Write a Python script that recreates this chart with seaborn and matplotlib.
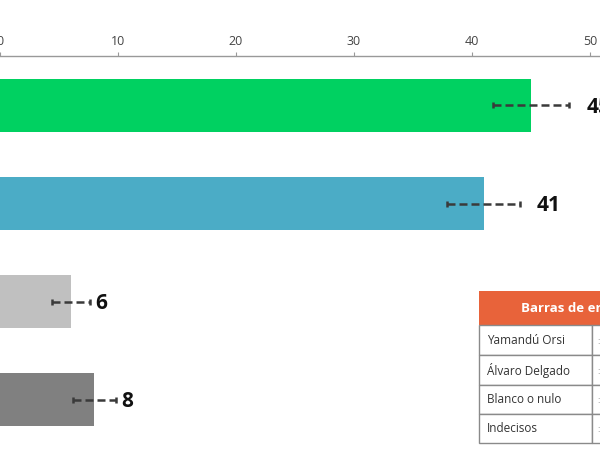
import matplotlib
matplotlib.use("Agg")
import matplotlib.pyplot as plt
import seaborn as sns
import pandas as pd
from matplotlib.patches import Rectangle

categories = ["Yamandú Orsi", "Álvaro Delgado", "Blanco o nulo", "Indecisos"]
values = [45, 41, 6, 8]
errors = [3.2, 3.1, 1.6, 1.8]
colors = ["#00D161", "#4BACC6", "#C0C0C0", "#808080"]
xticks = [0, 10, 20, 30, 40, 50]
table_title = "Barras de error"
table_errs = ["± 3,2", "± 3,1", "± 1,6", "± 1,8"]

sns.set_theme(style="white")
plt.rcParams["font.family"] = ["Open Sans", "DejaVu Sans"]

df = pd.DataFrame({"cat": categories, "val": values})

fig = plt.figure(figsize=(6, 4.5), dpi=100)
W, H = 600, 450
ax = fig.add_axes([0, 0, 1, 1 - 56 / H])
sns.barplot(data=df, x="val", y="cat", hue="cat", palette=colors, orient="h",
            width=0.55, ax=ax, legend=False, saturation=1, errorbar=None,
            linewidth=0, edgecolor="none")

ax.set_xlim(0.0, 600 / 11.8)
ax.set_ylim(3.515, -0.505)

pads = [18, 16, 6, 6]
for i, (v, e) in enumerate(zip(values, errors)):
    ax.errorbar(v, i, xerr=e, fmt="none", ecolor="#3a3a3a", elinewidth=1.8,
                capsize=2.5, capthick=1.8)
    ax.annotate(str(v), xy=(v + e, i), xytext=(pads[i] * 0.72, -1.5),
                textcoords="offset points", ha="left", va="center",
                fontsize=15, fontweight="bold", color="#111111")

for coll in ax.collections:
    try:
        coll.set_linestyle((0, (3.2, 1.6)))
    except Exception:
        pass

ax.xaxis.tick_top()
ax.set_xticks(xticks)
ax.set_xticklabels([str(t) for t in xticks], fontsize=9, color="#444444")
ax.tick_params(axis="x", which="both", top=True, bottom=False, direction="out",
               length=3, width=0.8, color="#999999", pad=3)
ax.set_yticks([])
ax.set_xlabel("")
ax.set_ylabel("")
for s in ["left", "right", "bottom"]:
    ax.spines[s].set_visible(False)
ax.spines["top"].set_color("#999999")
ax.spines["top"].set_linewidth(1)

def px(x, y):
    return x / W, 1 - y / H

tx0, tx1, tx2 = 479, 592, 663
hy0, hy1 = 291, 325
rows = [325, 355, 385, 414, 443]
x, y = px(tx0, hy1)
fig.patches.append(Rectangle((x, y), (tx2 - tx0) / W, (hy1 - hy0) / H,
                             transform=fig.transFigure, facecolor="#E8633A",
                             edgecolor="none"))
cx, cy = px((tx0 + tx2) / 2, (hy0 + hy1) / 2)
fig.text(cx, cy, table_title, ha="center", va="center", fontsize=9.5,
         fontweight="bold", color="white")
for r in range(4):
    for (a, b) in [(tx0, tx1), (tx1, tx2)]:
        x, y = px(a, rows[r + 1])
        fig.patches.append(Rectangle((x, y), (b - a) / W, (rows[r + 1] - rows[r]) / H,
                                     transform=fig.transFigure, facecolor="white",
                                     edgecolor="#8a8a8a", linewidth=1))
    tx, ty = px(tx0 + 8, (rows[r] + rows[r + 1]) / 2)
    fig.text(tx, ty, categories[r], ha="left", va="center", fontsize=8.5,
             color="#333333")
    tx, ty = px(tx1 + 6, (rows[r] + rows[r + 1]) / 2)
    fig.text(tx, ty, table_errs[r], ha="left", va="center", fontsize=8.5,
             color="#bbbbbb")

fig.savefig("out.png", dpi=100)
